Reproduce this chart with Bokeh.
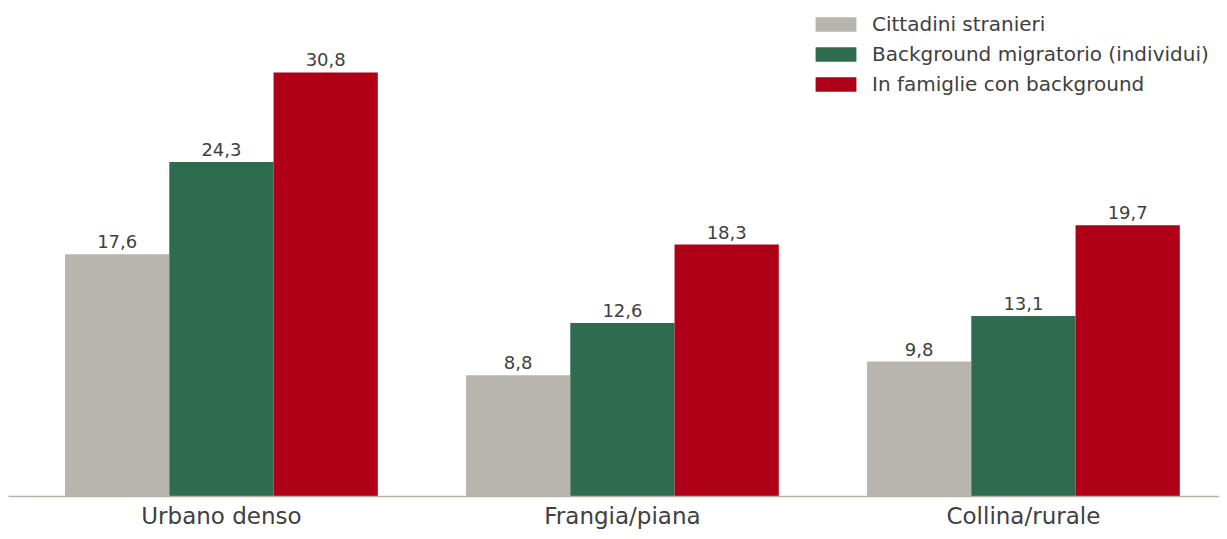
from bokeh.plotting import figure
from bokeh.models import ColumnDataSource, Range1d, FixedTicker, Legend, LegendItem, LabelSet
from bokeh.embed import file_html
from bokeh.resources import INLINE
from bokeh.core.properties import value

categories = ["Urbano denso", "Frangia/piana", "Collina/rurale"]
series_names = ["Cittadini stranieri", "Background migratorio (individui)", "In famiglie con background"]
stranieri = [17.6, 8.8, 9.8]
background = [24.3, 12.6, 13.1]
famiglie = [30.8, 18.3, 19.7]
colors = ["#b8b5ae", "#2e6b4f", "#b00018"]

FONT = "DejaVu Sans"
TXT = "#404040"

p = figure(width=1219, height=531, output_backend="svg", toolbar_location=None,
           x_range=Range1d(-0.531, 2.489), y_range=Range1d(0, 36.02),
           min_border_left=8, min_border_right=0, min_border_top=0, min_border_bottom=35)
p.outline_line_color = None
p.grid.visible = False
p.yaxis.visible = False
p.background_fill_color = "white"

bw = 0.26
offsets = [-bw, 0.0, bw]
renderers = []
for vals, off, col, name in zip([stranieri, background, famiglie], offsets, colors, series_names):
    xs = [i + off for i in range(len(categories))]
    labels = [f"{v:.1f}".replace(".", ",") for v in vals]
    src = ColumnDataSource(dict(x=xs, top=vals, lab=labels))
    r = p.vbar(x="x", top="top", bottom=0, width=bw, source=src, fill_color=col, line_color=None)
    renderers.append((name, r))
    p.add_layout(LabelSet(x="x", y="top", text="lab", source=src, text_align="center",
                          text_baseline="alphabetic", y_offset=6, text_font=value(FONT),
                          text_font_size="18px", text_color=TXT))

ax = p.xaxis[0]
ax.ticker = FixedTicker(ticks=list(range(len(categories))))
ax.major_label_overrides = {i: c for i, c in enumerate(categories)}
ax.major_tick_out = 0
ax.major_tick_in = 0
ax.minor_tick_out = 0
ax.minor_tick_in = 0
ax.major_tick_line_color = None
ax.minor_tick_line_color = None
ax.axis_line_color = "#b5b2ab"
ax.axis_line_width = 1.5
ax.major_label_standoff = 6
ax.major_label_text_font = FONT
ax.major_label_text_font_size = "23px"
ax.major_label_text_color = TXT

legend = Legend(items=[LegendItem(label=n, renderers=[r]) for n, r in renderers],
                location=(802, 400), orientation="vertical",
                glyph_width=51, glyph_height=18, label_standoff=11, spacing=6,
                label_height=20, padding=0, margin=0, border_line_color=None,
                background_fill_alpha=0,
                label_text_font=FONT, label_text_font_size="20px", label_text_color=TXT)
p.add_layout(legend)

open("out.html", "w").write(file_html(p, INLINE))
